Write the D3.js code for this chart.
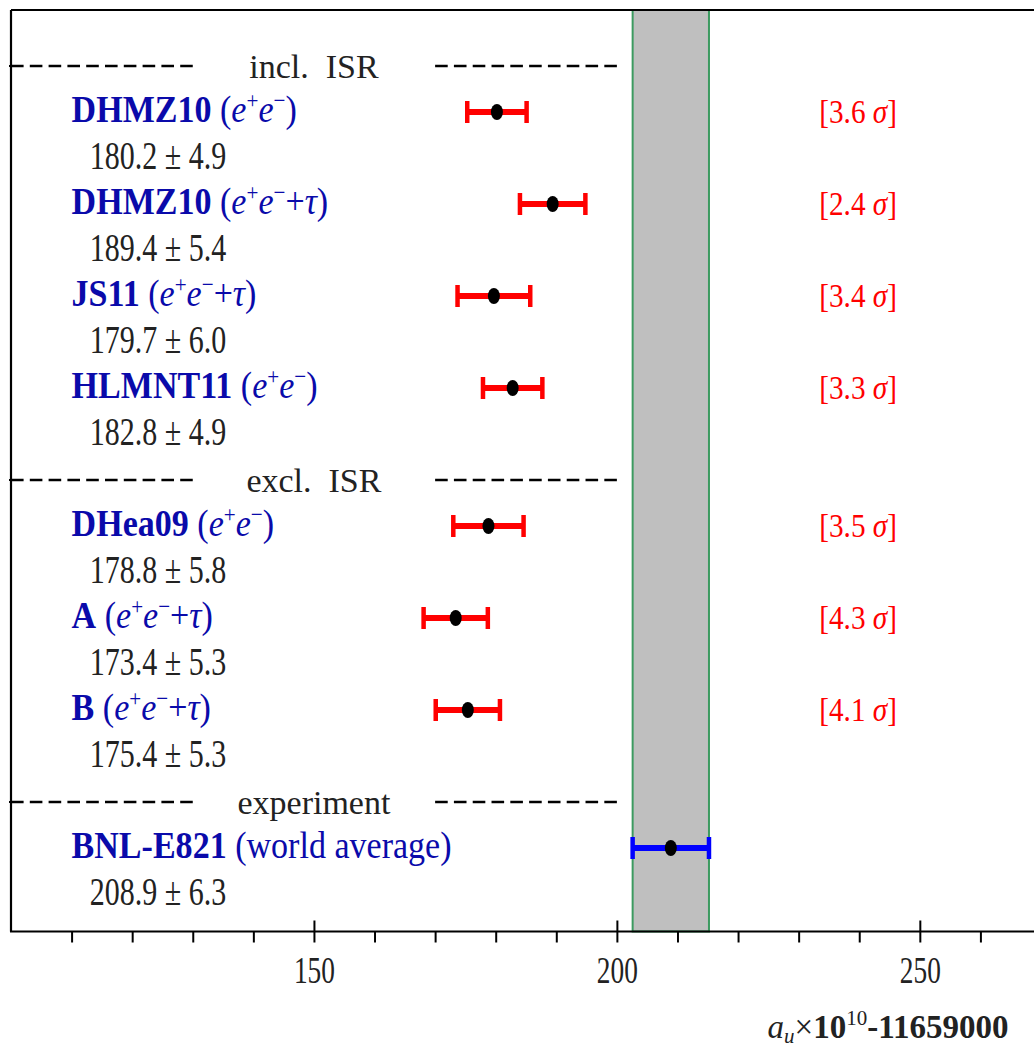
<!DOCTYPE html>
<html>
<head>
<meta charset="utf-8">
<script src="https://cdn.jsdelivr.net/npm/d3@7"></script>
<style>
  html, body { margin: 0; padding: 0; background: #fff; }
  svg { display: block; }
</style>
</head>
<body>
<div id="chart"></div>
<script>
// Muon g-2: hadronic-contribution determinations vs. the BNL-E821 measurement
const headers   = ["incl. ISR", "excl. ISR", "experiment"];
const names     = ["DHMZ10", "DHMZ10", "JS11", "HLMNT11", "DHea09", "A", "B", "BNL-E821"];
const processes = ["e+e-", "e+e-+tau", "e+e-+tau", "e+e-", "e+e-", "e+e-+tau", "e+e-+tau", "world average"];
const groupOf   = [0, 0, 0, 0, 1, 1, 1, 2];
const values    = [180.2, 189.4, 179.7, 182.8, 178.8, 173.4, 175.4, 208.9];
const errors    = [4.9, 5.4, 6.0, 4.9, 5.8, 5.3, 5.3, 6.3];
const sigmas    = [3.6, 2.4, 3.4, 3.3, 3.5, 4.3, 4.1, null];
const majorTicks = [150, 200, 250];
const minorTicks = [110, 120, 130, 140, 160, 170, 180, 190, 210, 220, 230, 240, 260];
const axisTitle  = "11659000";

const W = 1034, H = 1048;
const FONT = "'Liberation Serif', 'Times New Roman', serif";
const BLUE_TXT = "#0a0aaa", DARK = "#222", RED = "#ff0000";

const plot = { left: 11, top: 10, bottom: 931.5 };

// Lay out slots: header, then a row every two slots; the next header sits two slots after the last row.
const headerSlot = [], rowSlot = [];
{
  let s = 0, g = -1;
  groupOf.forEach((gi, i) => {
    if (gi !== g) {
      if (g >= 0) s += 2;
      headerSlot.push(s);
      g = gi;
      s += 1;
    } else {
      s += 2;
    }
    rowSlot[i] = s;
  });
}
const nSlots = rowSlot[rowSlot.length - 1];

const x = d3.scaleLinear().domain([100, 270]).range([plot.left, 1041]);
const y = d3.scaleLinear().domain([0, nSlots]).range([66, 848]);

const svg = d3.select("#chart").append("svg")
  .attr("width", W).attr("height", H)
  .attr("font-family", FONT);

// Experimental band
const ei = groupOf.indexOf(2);
svg.append("rect")
  .attr("x", x(values[ei] - errors[ei]))
  .attr("y", plot.top)
  .attr("width", x(values[ei] + errors[ei]) - x(values[ei] - errors[ei]))
  .attr("height", plot.bottom - plot.top)
  .attr("fill", "#bfbfbf")
  .attr("stroke", "#3c9a60")
  .attr("stroke-width", 2);

// Frame: top and left edges
svg.append("line").attr("x1", plot.left).attr("x2", W).attr("y1", plot.top).attr("y2", plot.top)
  .attr("stroke", "#000").attr("stroke-width", 2.2);
svg.append("line").attr("x1", plot.left).attr("x2", plot.left).attr("y1", plot.top).attr("y2", plot.bottom)
  .attr("stroke", "#000").attr("stroke-width", 2.2);

// Bottom axis
const axG = svg.append("g").attr("transform", `translate(0,${plot.bottom})`);
axG.append("g").call(d3.axisBottom(x).tickValues(minorTicks).tickSize(11).tickFormat(""))
  .call(g => g.select(".domain").remove());
axG.append("g").call(d3.axisTop(x).tickValues(majorTicks).tickSize(11).tickFormat(""))
  .call(g => g.select(".domain").remove());
const majG = axG.append("g").call(d3.axisBottom(x).tickValues(majorTicks).tickSize(11).tickFormat(d3.format("d")));
majG.select(".domain").remove();
axG.selectAll(".tick line").attr("stroke", "#000").attr("stroke-width", 2);
majG.selectAll("text")
  .attr("y", 51.5).attr("dy", null)
  .attr("font-size", 37).attr("font-family", FONT).attr("fill", DARK)
  .attr("transform", "scale(0.74,1)");
axG.append("line").attr("x1", plot.left - 1).attr("x2", W).attr("y1", 0).attr("y2", 0)
  .attr("stroke", "#000").attr("stroke-width", 2.2);

// Helper: append rich-text segments as tspans
function addSegs(text, segs) {
  let cur = 0;
  segs.forEach(s => {
    const ts = text.append("tspan").text(s.t);
    if (s.bold) ts.attr("font-weight", "bold");
    if (s.italic) ts.attr("font-style", "italic");
    if (s.size) ts.attr("font-size", s.size);
    const target = s.shift || 0;
    if (target !== cur) { ts.attr("dy", target - cur); cur = target; }
  });
}

function processSegs(p) {
  const sup = 23, up = -14;
  if (p.startsWith("e+e-")) {
    const segs = [
      { t: "\u00a0(" },
      { t: "e", italic: true },
      { t: "+", size: sup, shift: up },
      { t: "e", italic: true },
      { t: "\u2212", size: sup, shift: up }
    ];
    if (p.endsWith("tau")) {
      segs.push({ t: "+" });
      segs.push({ t: "\u03c4", italic: true });
    }
    segs.push({ t: ")" });
    return segs;
  }
  return [{ t: "\u00a0(" + p + ")" }];
}

// Group headers with dashed separators
headers.forEach((h, gi) => {
  const yy = y(headerSlot[gi]);
  [[100, 130], [170, 200]].forEach(([a, b]) => {
    svg.append("line")
      .attr("x1", x(a)).attr("x2", x(b)).attr("y1", yy).attr("y2", yy)
      .attr("stroke", "#000").attr("stroke-width", 2.4)
      .attr("stroke-dasharray", "12.6,6.2");
  });
  svg.append("line").attr("x1", plot.left - 2).attr("x2", plot.left + 3)
    .attr("y1", yy).attr("y2", yy).attr("stroke", "#000").attr("stroke-width", 2);
  svg.append("text")
    .attr("x", x(150)).attr("y", yy + 12)
    .attr("text-anchor", "middle")
    .attr("font-size", 34).attr("fill", DARK)
    .text(h.replace(". ", ".\u2002"));
});

// Rows
names.forEach((n, i) => {
  const yy = y(rowSlot[i]);
  const isExp = groupOf[i] === 2;

  // label
  const lab = svg.append("text")
    .attr("transform", `translate(${x(110)},${yy + 10}) scale(0.92,1)`)
    .attr("font-size", 37).attr("fill", BLUE_TXT);
  addSegs(lab, [{ t: n, bold: true }].concat(processSegs(processes[i])));

  // value text
  svg.append("text")
    .attr("transform", `translate(${x(113)},${yy + 57}) scale(0.76,1)`)
    .attr("font-size", 39.5).attr("fill", DARK)
    .text(`${values[i].toFixed(1)} \u00b1 ${errors[i].toFixed(1)}`);

  // error bar
  const col = isExp ? "#0000ff" : "#ff0000";
  const lo = x(values[i] - errors[i]), hi = x(values[i] + errors[i]);
  svg.append("line").attr("x1", lo).attr("x2", hi).attr("y1", yy).attr("y2", yy)
    .attr("stroke", col).attr("stroke-width", 6);
  [lo, hi].forEach(cx => {
    svg.append("line").attr("x1", cx).attr("x2", cx).attr("y1", yy - 11).attr("y2", yy + 11)
      .attr("stroke", col).attr("stroke-width", 4.5);
  });
  svg.append("ellipse").attr("cx", x(values[i])).attr("cy", yy)
    .attr("rx", 6).attr("ry", 8).attr("fill", "#000");

  // significance
  if (sigmas[i] != null) {
    const st = svg.append("text")
      .attr("transform", `translate(${x(233.4)},${yy + 11}) scale(0.86,1)`)
      .attr("font-size", 34).attr("fill", RED);
    addSegs(st, [{ t: "[" + sigmas[i].toFixed(1) + "\u00a0" }, { t: "\u03c3", italic: true }, { t: "]" }]);
  }
});

// Axis title
const at = svg.append("text")
  .attr("x", 888).attr("y", 1038)
  .attr("text-anchor", "middle")
  .attr("font-size", 33).attr("fill", DARK);
addSegs(at, [
  { t: "a", italic: true },
  { t: "u", italic: true, size: 21, shift: 5 },
  { t: "\u00d7" },
  { t: "10", bold: true },
  { t: "10", size: 21, shift: -13 },
  { t: "-" + axisTitle, bold: true }
]);
</script>
</body>
</html>
